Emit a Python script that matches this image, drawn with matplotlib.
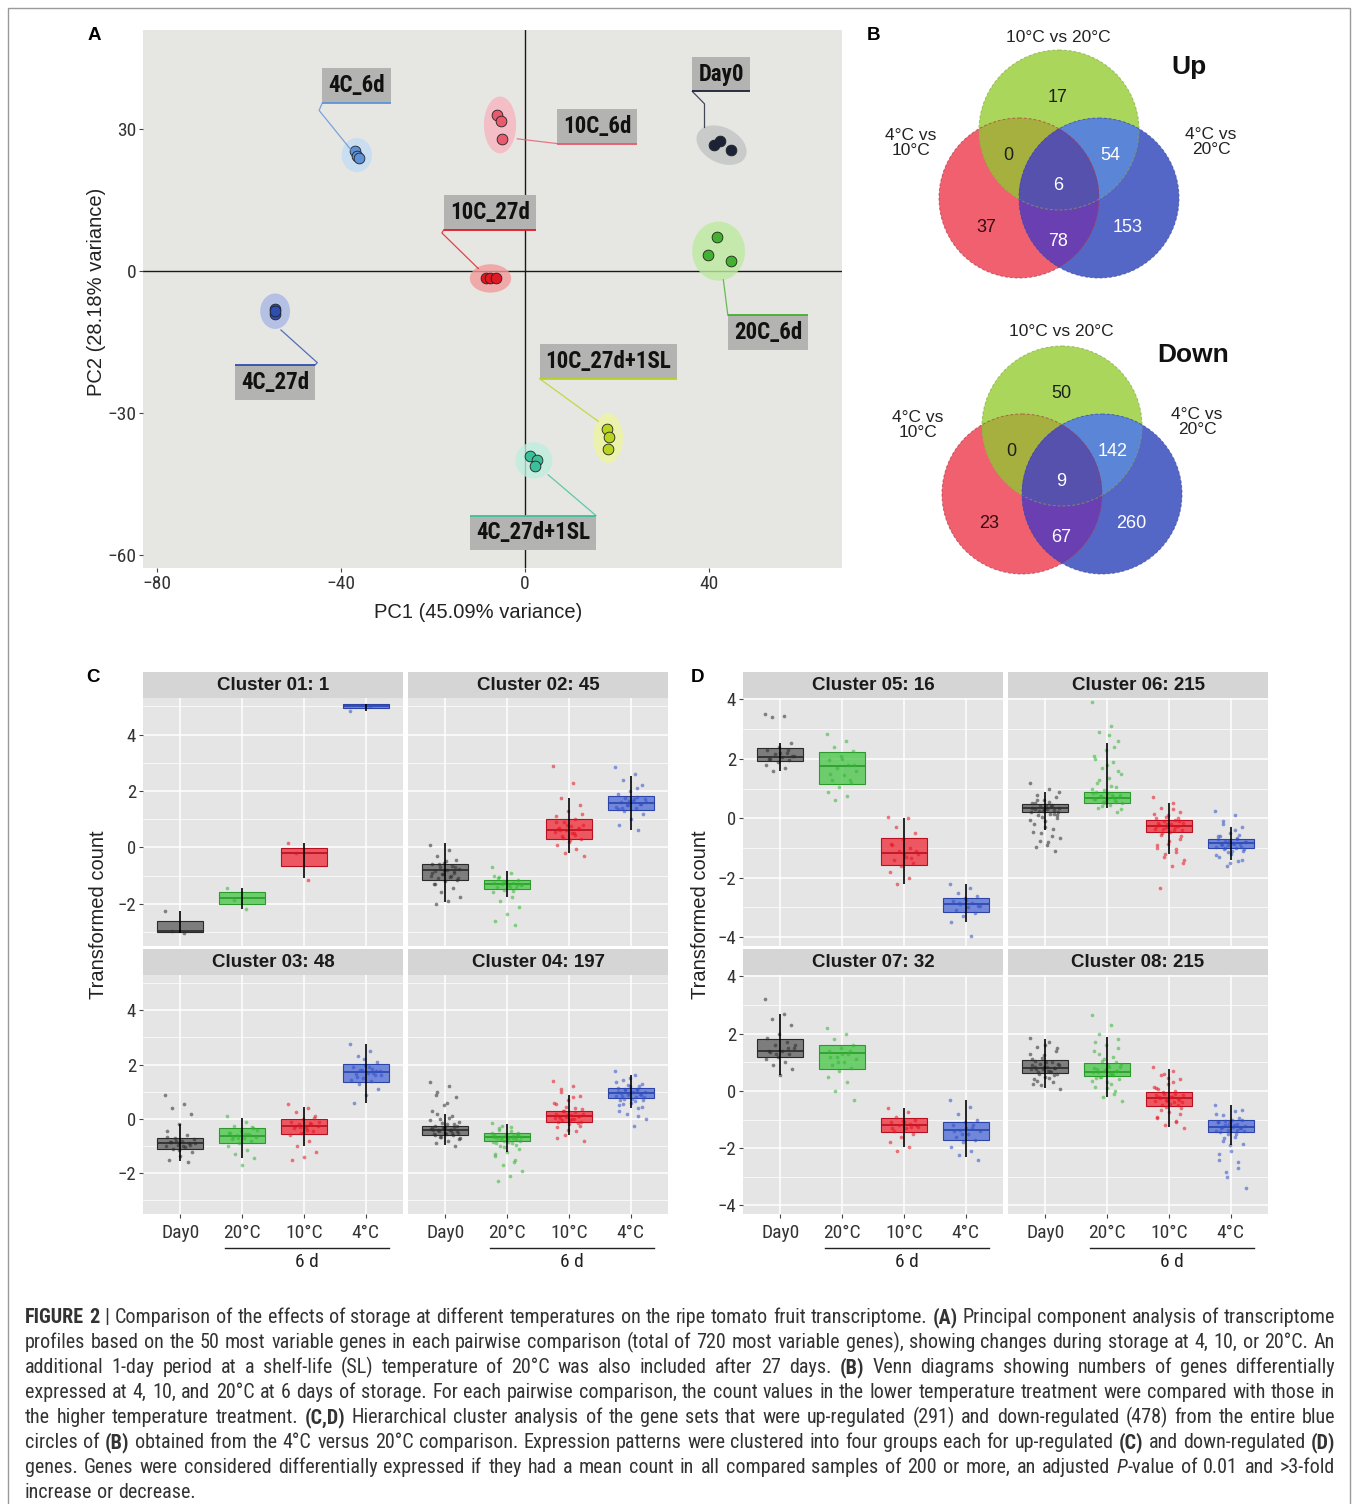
import numpy as np
import matplotlib
matplotlib.use("Agg")
import matplotlib.pyplot as plt
from matplotlib import font_manager
from matplotlib.font_manager import FontProperties
from matplotlib.patches import Ellipse, Circle, Rectangle, Polygon
from matplotlib.colors import to_rgba
from matplotlib.transforms import blended_transform_factory

W, H = 1358, 1504

_names = {f.name for f in font_manager.fontManager.ttflist}


def pick(cands):
    for c in cands:
        if c in _names:
            return c
    return "DejaVu Sans"


NARROW = pick(["Liberation Sans Narrow", "Arial Narrow", "Roboto Condensed", "Liberation Sans"])
SANS = pick(["Liberation Sans", "Arimo", "Roboto", "DejaVu Sans"])
plt.rcParams["font.family"] = [SANS, "DejaVu Sans"]
NARROW_L = [NARROW, "DejaVu Sans"]

# ---------------- Panel A: PCA scores ----------------
pca_groups = ["Day0", "4C_6d", "10C_6d", "20C_6d", "4C_27d", "10C_27d", "4C_27d+1SL", "10C_27d+1SL"]
pc1 = [[41.2, 42.4, 44.8], [-37.0, -36.5, -36.0], [-6.0, -5.2, -4.9], [41.8, 39.9, 44.8],
       [-54.3, -54.3, -54.2], [-8.5, -7.5, -6.3], [1.1, 2.7, 2.2], [17.8, 18.4, 18.2]]
pc2 = [[26.7, 27.5, 25.5], [25.3, 24.3, 23.8], [32.9, 31.7, 27.9], [7.2, 3.3, 2.0],
       [-8.0, -9.1, -8.5], [-1.6, -1.6, -1.6], [-39.1, -39.9, -41.2], [-33.4, -35.1, -37.6]]
ell_w = [11.5, 6.6, 7.0, 11.5, 6.5, 9.0, 8.0, 6.5]
ell_h = [7.5, 7.2, 12.0, 12.5, 7.5, 6.0, 7.7, 10.5]
ell_ang = [-25, 0, 0, 0, 0, 0, 0, 0]

# ---------------- Panel B: Venn counts ----------------
# order: 10v20 only, 10v20&4v10, 10v20&4v20, all three, 4v10 only, 4v10&4v20, 4v20 only
up_counts = [17, 0, 54, 6, 37, 78, 153]
down_counts = [50, 0, 142, 9, 23, 67, 260]

# ---------------- Panels C, D: clusters ----------------
groups = ["Day0", "20°C", "10°C", "4°C"]
# box stats per group: (whisker low, q1, median, q3, whisker high)
c01_box = [(-3.05, -3.0, -2.97, -2.62, -2.27), (-2.2, -2.0, -1.78, -1.6, -1.45),
           (-1.1, -0.66, -0.21, -0.03, 0.15), (4.85, 4.94, 5.0, 5.08, 5.08)]
c02_box = [(-1.95, -1.15, -0.8, -0.59, 0.15), (-1.75, -1.47, -1.3, -1.15, -0.85),
           (-0.2, 0.29, 0.6, 1.02, 1.75), (0.6, 1.33, 1.58, 1.82, 2.55)]
c03_box = [(-1.55, -1.1, -0.89, -0.7, -0.2), (-1.45, -0.89, -0.62, -0.32, 0.05),
           (-1.0, -0.54, -0.25, -0.02, 0.45), (0.6, 1.37, 1.72, 2.04, 2.75)]
c04_box = [(-0.95, -0.6, -0.4, -0.25, 0.2), (-1.2, -0.82, -0.68, -0.53, -0.2),
           (-0.6, -0.11, 0.1, 0.31, 0.9), (0.4, 0.77, 0.95, 1.15, 1.6)]
c05_box = [(1.6, 1.93, 2.07, 2.37, 2.55), (None, 1.17, 1.77, 2.24, None),
           (-2.2, -1.56, -1.16, -0.65, 0.0), (-3.5, -3.16, -2.87, -2.67, -2.2)]
c06_box = [(-0.4, 0.2, 0.33, 0.47, 0.9), (0.35, 0.53, 0.67, 0.9, 2.55),
           (-1.2, -0.47, -0.25, -0.07, 0.5), (-1.4, -0.99, -0.84, -0.69, -0.3)]
c07_box = [(0.55, 1.17, 1.41, 1.8, 2.7), (None, 0.77, 1.33, 1.6, None),
           (-1.95, -1.43, -1.2, -0.96, -0.6), (-2.3, -1.72, -1.36, -1.09, -0.3)]
c08_box = [(0.1, 0.64, 0.8, 1.07, 1.8), (-0.2, 0.51, 0.67, 0.97, 1.9),
           (-1.25, -0.52, -0.25, -0.03, 0.75), (-1.9, -1.43, -1.25, -1.03, -0.5)]

# gene values (read approximately from the jittered points)
c01_pts = [[-2.25, -3.05, -2.95], [-1.45, -2.2, -1.85], [0.15, -1.15, -0.2], [4.85, 5.0]]
c02_pts = [[0.1, -0.1, -0.3, -0.45, -0.55, -0.6, -0.65, -0.7, -0.75, -0.8, -0.85, -0.9, -0.95, -1.0,
            -1.05, -1.1, -1.15, -1.2, -1.3, -1.45, -1.6, -1.75, -1.9, -2.0, -0.7, -0.8, -0.9, -1.0,
            -0.6, -1.1, -0.5, -1.3, -0.85, -0.95],
           [-0.7, -0.9, -1.05, -1.15, -1.2, -1.25, -1.28, -1.3, -1.32, -1.35, -1.4, -1.45, -1.5, -1.6,
            -1.75, -1.9, -2.1, -2.35, -2.6, -2.75, -1.2, -1.3, -1.4, -1.1, -1.35, -1.25, -1.0, -1.55],
           [2.9, 2.3, 1.75, 1.5, 1.3, 1.1, 1.0, 0.9, 0.8, 0.75, 0.7, 0.65, 0.6, 0.55, 0.5, 0.4, 0.3,
            0.2, 0.1, -0.05, -0.2, -0.3, 0.5, 0.6, 0.7, 0.8, 0.9, 0.45, 0.35, 1.2, 0.25, 0.65],
           [2.85, 2.6, 2.4, 2.2, 2.0, 1.9, 1.8, 1.75, 1.7, 1.65, 1.6, 1.55, 1.5, 1.45, 1.4, 1.3, 1.2,
            1.0, 0.8, 0.6, 1.5, 1.6, 1.7, 1.4, 1.55, 1.65, 1.35, 2.1]]
c03_pts = [[0.9, 0.55, 0.4, 0.2, -0.2, -0.45, -0.6, -0.7, -0.75, -0.8, -0.85, -0.9, -0.95, -1.0,
            -1.05, -1.1, -1.2, -1.35, -1.5, -1.6, -0.8, -0.9, -1.0, -0.85, -0.95, -1.15, -0.65],
           [0.1, -0.1, -0.25, -0.35, -0.45, -0.5, -0.55, -0.6, -0.65, -0.7, -0.75, -0.8, -0.9, -1.0,
            -1.15, -1.3, -1.45, -1.7, -0.5, -0.6, -0.7, -0.4, -0.55, -0.65, -0.3],
           [0.55, 0.4, 0.25, 0.1, 0.0, -0.1, -0.15, -0.2, -0.25, -0.3, -0.35, -0.45, -0.5, -0.6, -0.8,
            -1.0, -1.2, -1.4, -1.5, -0.2, -0.3, -0.1, -0.4, -0.25, 0.05],
           [2.75, 2.5, 2.3, 2.1, 2.0, 1.9, 1.85, 1.8, 1.75, 1.7, 1.65, 1.6, 1.5, 1.45, 1.4, 1.3, 1.1,
            0.9, 0.6, 1.7, 1.8, 1.6, 1.9, 1.55, 1.75, 2.2]]
c04_pts = [[1.35, 1.2, 1.0, 0.8, 0.5, 0.3, 0.1, 0.0, -0.1, -0.2, -0.25, -0.3, -0.35, -0.38, -0.4,
            -0.42, -0.45, -0.5, -0.55, -0.6, -0.65, -0.7, -0.8, -0.9, -1.0, -0.3, -0.35, -0.4, -0.45,
            -0.5, -0.55, -0.6, -0.2, -0.15, -0.05, 0.05, 0.2, -0.25, -0.3, -0.4, -0.5, -0.65, -0.75,
            0.6, 0.9],
           [-0.15, -0.3, -0.4, -0.5, -0.55, -0.6, -0.62, -0.65, -0.68, -0.7, -0.72, -0.75, -0.8, -0.85,
            -0.9, -1.0, -1.1, -1.2, -1.35, -1.5, -1.7, -1.9, -2.1, -2.3, -0.55, -0.6, -0.65, -0.7,
            -0.75, -0.8, -0.85, -0.9, -0.95, -1.05, -0.5, -0.45, -0.35, -0.6, -0.7, -1.3, -1.6,
            -0.25],
           [1.4, 1.2, 1.0, 0.85, 0.7, 0.55, 0.4, 0.3, 0.2, 0.15, 0.12, 0.1, 0.08, 0.05, 0.0, -0.05,
            -0.1, -0.2, -0.3, -0.45, -0.6, -0.8, 0.0, 0.05, 0.1, 0.15, 0.2, 0.25, 0.3, 0.35, -0.05,
            -0.1, -0.15, 0.45, 0.6, 0.8, 1.1, -0.25, -0.4, -0.7],
           [1.75, 1.6, 1.45, 1.3, 1.2, 1.15, 1.1, 1.05, 1.0, 0.98, 0.95, 0.92, 0.9, 0.85, 0.8, 0.75,
            0.7, 0.6, 0.5, 0.4, 0.2, 0.0, -0.25, 0.85, 0.9, 0.95, 1.0, 1.05, 1.1, 0.8, 0.75, 0.7, 1.2,
            1.25, 1.35, 0.65, 0.55, 0.45, 1.5, 0.3, 0.1]]
c05_pts = [[3.5, 3.45, 3.4, 2.55, 2.4, 2.3, 2.2, 2.15, 2.1, 2.05, 2.0, 1.95, 1.9, 1.8, 1.7, 1.6,
            2.1, 2.2, 2.0, 2.3],
           [2.85, 2.6, 2.4, 2.25, 2.1, 1.95, 1.8, 1.7, 1.6, 1.45, 1.3, 1.2, 1.05, 0.9, 0.75, 0.6,
            1.8, 2.0, 1.5, 1.3],
           [0.05, 0.0, -0.3, -0.5, -0.7, -0.85, -1.0, -1.1, -1.2, -1.3, -1.4, -1.5, -1.6, -1.8, -2.0,
            -2.2, -1.1, -1.2, -0.9, -1.35],
           [-2.2, -2.35, -2.5, -2.6, -2.7, -2.8, -2.85, -2.9, -2.95, -3.0, -3.1, -3.2, -3.3, -3.5,
            -3.95, -2.85, -2.95, -2.75]]
c06_pts = [[1.2, 1.0, 0.8, 0.7, 0.6, 0.5, 0.45, 0.4, 0.35, 0.32, 0.3, 0.28, 0.25, 0.2, 0.15, 0.1,
            0.0, -0.1, -0.2, -0.35, -0.5, -0.65, -0.8, -0.95, -1.1, 0.3, 0.35, 0.4, 0.25, 0.2, 0.45,
            0.5, 0.15, 0.05, -0.05, 0.55, 0.6, 0.1, -0.3, -0.45, -0.6, -0.75, 0.9, -0.9],
           [3.9, 3.1, 2.9, 2.6, 2.3, 2.1, 1.9, 1.7, 1.5, 1.35, 1.2, 1.05, 0.95, 0.85, 0.8, 0.75, 0.7,
            0.68, 0.65, 0.6, 0.55, 0.5, 0.45, 0.35, 0.2, 0.6, 0.65, 0.7, 0.75, 0.8, 0.85, 0.9, 0.55,
            0.5, 1.0, 1.1, 1.3, 1.6, 1.8, 2.0, 2.4, 0.4, 0.3, 2.8],
           [0.7, 0.5, 0.35, 0.2, 0.1, 0.0, -0.05, -0.1, -0.15, -0.2, -0.22, -0.25, -0.3, -0.35, -0.4,
            -0.5, -0.6, -0.75, -0.9, -1.05, -1.2, -1.4, -1.6, -2.35, -0.1, -0.2, -0.25, -0.3, -0.35,
            -0.4, -0.45, -0.15, 0.0, 0.05, 0.15, 0.3, -0.55, -0.7, -0.85, -1.0, -1.15, -1.3, -1.5],
           [0.25, 0.1, -0.1, -0.3, -0.5, -0.6, -0.7, -0.75, -0.8, -0.82, -0.85, -0.88, -0.9, -0.95,
            -1.0, -1.05, -1.1, -1.2, -1.3, -1.45, -1.6, -0.8, -0.85, -0.9, -0.95, -0.75, -0.7, -0.65,
            -1.0, -1.05, -1.1, -0.6, -0.55, -1.15, -1.25, -0.4, -0.2, -1.4, -1.5]]
c07_pts = [[3.2, 2.7, 2.5, 2.3, 2.0, 1.85, 1.7, 1.6, 1.5, 1.4, 1.35, 1.3, 1.2, 1.1, 1.0, 0.9, 0.75,
            0.55, 1.4, 1.5, 1.3, 1.6],
           [2.2, 2.0, 1.8, 1.6, 1.5, 1.4, 1.3, 1.2, 1.1, 1.0, 0.9, 0.8, 0.7, 0.5, 0.3, 0.0, -0.3,
            1.3, 1.2, 1.4, 1.0],
           [-0.6, -0.75, -0.9, -1.0, -1.05, -1.1, -1.15, -1.2, -1.25, -1.3, -1.4, -1.5, -1.6, -1.8,
            -1.95, -2.1, -1.2, -1.1, -1.3, -1.25],
           [-0.3, -0.55, -0.8, -1.0, -1.1, -1.2, -1.3, -1.35, -1.4, -1.5, -1.6, -1.7, -1.8, -1.95,
            -2.1, -2.25, -2.4, -1.3, -1.4, -1.2, -1.5]]
c08_pts = [[1.85, 1.7, 1.55, 1.4, 1.25, 1.1, 1.0, 0.95, 0.9, 0.85, 0.82, 0.8, 0.78, 0.75, 0.7, 0.65,
            0.6, 0.5, 0.4, 0.3, 0.2, 0.05, 0.7, 0.75, 0.8, 0.85, 0.9, 0.65, 0.6, 0.95, 1.0, 1.05,
            0.55, 1.15, 1.3, 0.45, 0.35, 1.5, 1.6, 0.25],
           [2.65, 2.3, 2.0, 1.8, 1.6, 1.4, 1.2, 1.05, 0.95, 0.85, 0.75, 0.7, 0.68, 0.65, 0.6, 0.5, 0.4,
            0.3, 0.15, 0.0, -0.2, -0.35, 0.6, 0.65, 0.7, 0.75, 0.8, 0.55, 0.5, 0.85, 0.9, 0.45, 1.0,
            1.1, 0.35, 0.25, 1.3, 1.5, 0.1, 1.7, -0.1],
           [0.85, 0.7, 0.55, 0.4, 0.25, 0.1, 0.0, -0.1, -0.15, -0.2, -0.22, -0.25, -0.3, -0.35, -0.4,
            -0.5, -0.6, -0.75, -0.9, -1.05, -1.2, -1.3, -0.2, -0.25, -0.3, -0.35, -0.15, -0.1, -0.05,
            -0.4, -0.45, 0.05, -0.5, -0.55, 0.15, 0.3, -0.65, -0.8, 0.45, -0.95, -1.1, 0.6],
           [-0.5, -0.7, -0.85, -1.0, -1.05, -1.1, -1.15, -1.2, -1.22, -1.25, -1.28, -1.3, -1.35, -1.4,
            -1.5, -1.65, -1.85, -2.1, -2.4, -2.7, -3.0, -3.4, -1.2, -1.25, -1.3, -1.15, -1.1, -1.35,
            -1.05, -1.4, -1.0, -1.45, -0.95, -1.5, -0.8, -1.6, -1.75, -0.65, -1.9, -2.2, -2.5,
            -2.85]]

c_titles = ["Cluster 01: 1", "Cluster 02: 45", "Cluster 03: 48", "Cluster 04: 197"]
d_titles = ["Cluster 05: 16", "Cluster 06: 215", "Cluster 07: 32", "Cluster 08: 215"]

# ---------------- styling ----------------
pt_col = ["#1c2238", "#5e92d8", "#e85a6e", "#44b030", "#2f4fb0", "#e01a24", "#3cc09a", "#b8d41e"]
ell_col = ["#c2c4c6", "#c2dcf4", "#f7b4be", "#bdeaa0", "#a9b7e6", "#f29a9a", "#bdeedd", "#eef6a0"]
lab_x = [42.7, -36.6, 15.7, 52.9, -54.3, -7.6, 1.8, 18.2]
lab_y = [41.6, 39.1, 30.6, -13.1, -23.6, 12.4, -55.4, -19.1]
lab_side = ["bottom", "bottom", "bottom", "top", "top", "bottom", "top", "bottom"]
lab_corner = ["left", "left", "left", "left", "right", "left", "right", "left"]
lab_path = [[(39.1, 35.3), (39.1, 30.3)], [(-44.7, 33.9), (-37.8, 25.6)], [(-1.6, 27.9)],
            [(43.2, -1.9)], [(-45.1, -19.4), (-53.0, -12.5)], [(-18.0, 8.0), (-10.1, 0.5)],
            [(5.1, -43.1)], [(16.0, -31.8)]]

box_col = ["#555555", "#3fc43f", "#f0202e", "#4563d6"]
med_col = ["#2a2a2a", "#2a9a2a", "#b81020", "#2c44a8"]
dot_col = ["#2b2b2b", "#2fb82f", "#e8101e", "#2f4fc8"]

fig = plt.figure(figsize=(W / 100, H / 100), dpi=100)
fig.patch.set_facecolor("white")

ov = fig.add_axes([0, 0, 1, 1])
ov.set_xlim(0, W)
ov.set_ylim(H, 0)
ov.axis("off")


def px_axes(l, t, r, b):
    return fig.add_axes([l / W, 1 - b / H, (r - l) / W, (b - t) / H])


ov.add_patch(Rectangle((8, 8), W - 16, H + 20, fill=False, ec="#9a9a9a", lw=1.0))

# panel letters
for letter, (x, y) in zip("ABCD", [(94, 36), (873, 35), (93, 678), (698, 678)]):
    ov.text(x, y, letter, ha="center", va="center", fontsize=13.5, fontweight="bold")

# ================= Panel A =================
axA = px_axes(143, 30, 842, 568)
axA.set_facecolor("#e6e7e3")
for s in axA.spines.values():
    s.set_visible(False)
axA.set_xlim(-83, 69)
axA.set_ylim(-62.8, 50.9)
axA.axhline(0, color="#1a1a1a", lw=1.0, zorder=1)
axA.axvline(0, color="#1a1a1a", lw=1.0, zorder=1)
for xs, ys, w, h, a, pc, ec in zip(pc1, pc2, ell_w, ell_h, ell_ang, pt_col, ell_col):
    axA.add_patch(Ellipse((np.mean(xs), np.mean(ys)), w, h, angle=a, fc=ec, ec="none",
                          alpha=0.8, zorder=2))
    axA.scatter(xs, ys, s=60, c=pc, edgecolors="#222222", linewidths=0.6, zorder=3)
axA.set_xticks([-80, -40, 0, 40])
axA.set_yticks([-60, -30, 0, 30])
axA.tick_params(length=3, width=0.8, color="#444444", labelsize=14, labelcolor="#333333", pad=2)
for lab in axA.get_xticklabels() + axA.get_yticklabels():
    lab.set_fontfamily(NARROW_L)

lab_texts = []
for g, lx, ly in zip(pca_groups, lab_x, lab_y):
    lab_texts.append(axA.text(lx, ly, g, ha="center", va="center", fontsize=16.5, fontweight="bold",
                              family=NARROW_L, color="#111111", zorder=6,
                              bbox=dict(boxstyle="square,pad=0.26", fc="#b3b4b1", ec="none")))
ov.text(478, 613, "PC1 (45.09% variance)", ha="center", va="center", fontsize=14.5, color="#222222")
ov.text(96, 292, "PC2 (28.18% variance)", ha="center", va="center", fontsize=14.5, color="#222222",
        rotation=90)

# ================= Panel B =================
def venn(bx, by, counts, lab_pos, word, word_pos):
    R = 80
    cg, cr, cb = (bx, by - 68), (bx - 40, by), (bx + 40, by)

    def circ(c, **kw):
        return Circle(c, R, transform=ov.transData, **kw)

    for c, col in [(cr, "#f0606e"), (cg, "#a9d65b"), (cb, "#5567c6")]:
        ov.add_patch(circ(c, fc=col, ec="none"))
    p = ov.add_patch(circ(cg, fc="#a6b03e", ec="none"))
    p.set_clip_path(circ(cr))
    p = ov.add_patch(circ(cb, fc="#5b86d8", ec="none"))
    p.set_clip_path(circ(cg))
    p = ov.add_patch(circ(cb, fc="#6a3fb2", ec="none"))
    p.set_clip_path(circ(cr))
    a = np.arccos(40 / R)
    t1 = np.linspace(-a, a, 60)
    t2 = np.linspace(np.pi - a, np.pi + a, 60)
    lens = np.vstack([np.c_[cr[0] + R * np.cos(t1), cr[1] + R * np.sin(t1)],
                      np.c_[cb[0] + R * np.cos(t2), cb[1] + R * np.sin(t2)]])
    p = ov.add_patch(Polygon(lens, closed=True, fc="#5551ad", ec="none"))
    p.set_clip_path(circ(cg))
    for c, col in [(cr, "#b03848"), (cg, "#86a848"), (cb, "#3c4c9c")]:
        ov.add_patch(circ(c, fill=False, ec=col, lw=0.7, ls=(0, (3, 2)), alpha=0.7))
    offs = [(-1, -100), (-51, -43), (51, -43), (-1, -13), (-73, 30), (-1, 43), (69, 30)]
    cols = ["#1e1e1e", "#1e1e1e", "white", "white", "#3a0a12", "white", "white"]
    for n, (dx, dy), col in zip(counts, offs, cols):
        ov.text(bx + dx, by + dy, str(n), ha="center", va="center", fontsize=13, color=col)
    texts = ["10°C vs 20°C", "4°C vs\n10°C", "4°C vs\n20°C"]
    for t, (dx, dy) in zip(texts, lab_pos):
        ov.text(bx + dx, by + dy, t, ha="center", va="center", fontsize=12.5, color="#222222",
                linespacing=1.0)
    ov.text(bx + word_pos[0], by + word_pos[1], word, ha="center", va="center", fontsize=19,
            fontweight="bold", color="#111111")


venn(1059, 198, up_counts, [(-1, -160), (-148, -55), (152, -56)], "Up", (130, -131))
venn(1062, 494, down_counts, [(-1, -163), (-144, -69), (135, -72)], "Down", (131, -139))

# ================= Panels C, D =================
def jitter(n):
    return ((np.arange(n) * 0.618034) % 1.0 - 0.5) * 0.5


def draw_cluster(ax, boxes, pts, ylim, yticks, minors, left, bottom):
    ax.set_facecolor("#e5e5e5")
    for s in ax.spines.values():
        s.set_visible(False)
    stats = []
    for b in boxes:
        lo, q1, med, q3, hi = b
        stats.append(dict(whislo=q1 if lo is None else lo, q1=q1, med=med, q3=q3,
                          whishi=q3 if hi is None else hi))
    bp = ax.bxp(stats, positions=[1, 2, 3, 4], widths=0.75, patch_artist=True, showfliers=False,
                showcaps=False, manage_ticks=False, whiskerprops=dict(linewidth=0),
                medianprops=dict(linewidth=1.2), zorder=2)
    for i, patch in enumerate(bp["boxes"]):
        patch.set_facecolor(to_rgba(box_col[i], 0.72))
        patch.set_edgecolor(med_col[i])
        patch.set_linewidth(0.8)
        bp["medians"][i].set_color(med_col[i])
    for i, vals in enumerate(pts):
        ax.scatter(i + 1 + jitter(len(vals)), vals, s=7, color=dot_col[i], alpha=0.55, lw=0,
                   zorder=3)
        lo, hi = boxes[i][0], boxes[i][4]
        if lo is not None:
            ax.vlines(i + 1, lo, hi, color="black", lw=1.2, zorder=4)
    ax.set_xlim(0.4, 4.6)
    ax.set_ylim(*ylim)
    ax.set_xticks([1, 2, 3, 4])
    ax.set_yticks(yticks)
    ax.set_yticks(minors, minor=True)
    ax.set_axisbelow(True)
    ax.grid(which="major", color="white", lw=1.1)
    ax.grid(which="minor", axis="y", color="white", lw=0.5)
    ax.tick_params(which="minor", length=0)
    ax.tick_params(which="major", length=3, width=0.8, color="#444444", labelcolor="#333333",
                   left=left, labelleft=left, bottom=bottom, labelbottom=bottom)
    ax.tick_params(axis="y", labelsize=13.5, pad=2)
    ax.tick_params(axis="x", labelsize=14, pad=4)
    if bottom:
        ax.set_xticklabels(groups)
        for lab in ax.get_xticklabels():
            lab.set_fontfamily(NARROW_L)
        tr = blended_transform_factory(ax.transData, ax.transAxes)
        ax.plot([1.72, 4.38], [-0.142, -0.142], color="#222222", lw=1.0, transform=tr,
                clip_on=False)
        ax.text(3.05, -0.2, "6 d", ha="center", va="center", transform=tr, fontsize=14,
                family=NARROW_L, color="#222222")
    if left:
        for lab in ax.get_yticklabels():
            lab.set_fontfamily(NARROW_L)


def strip(l, t, r, b, title):
    sa = px_axes(l, t, r, b)
    sa.set_facecolor("#d5d5d5")
    sa.set_xticks([])
    sa.set_yticks([])
    for s in sa.spines.values():
        s.set_visible(False)
    sa.text(0.5, 0.48, title, ha="center", va="center", fontsize=13.5, fontweight="bold",
            color="#1a1a1a", transform=sa.transAxes)


cells = [(143, 698, 403, 946), (408, 698, 668, 946), (143, 975, 403, 1214), (408, 975, 668, 1214)]
c_boxes = [c01_box, c02_box, c03_box, c04_box]
c_pts = [c01_pts, c02_pts, c03_pts, c04_pts]
d_boxes = [c05_box, c06_box, c07_box, c08_box]
d_pts = [c05_pts, c06_pts, c07_pts, c08_pts]

for k, (l, t, r, b) in enumerate(cells):
    left = k % 2 == 0
    bottom = k >= 2
    for dx, bxs, pts, titles, ylim, yt, mn in [
            (0, c_boxes, c_pts, c_titles, (-3.5, 5.3), [-2, 0, 2, 4], [-3, -1, 1, 3, 5]),
            (600, d_boxes, d_pts, d_titles, (-4.3, 4.05), [-4, -2, 0, 2, 4], [-3, -1, 1, 3])]:
        ax = px_axes(l + dx, t, r + dx, b)
        draw_cluster(ax, bxs[k], pts[k], ylim, yt, mn, left, bottom)
        strip(l + dx, t - 26, r + dx, t, titles[k])

ov.text(98, 915, "Transformed count", ha="center", va="center", rotation=90, fontsize=14.5,
        color="#222222")
ov.text(700, 915, "Transformed count", ha="center", va="center", rotation=90, fontsize=14.5,
        color="#222222")

# label leader lines for panel A (need rendered box extents)
fig.canvas.draw()
inv = axA.transData.inverted()
for t, side, corner, path, col in zip(lab_texts, lab_side, lab_corner, lab_path, pt_col):
    bb = t.get_bbox_patch().get_window_extent()
    (x0, y0), (x1, y1) = inv.transform([[bb.x0, bb.y0], [bb.x1, bb.y1]])
    ys = y0 if side == "bottom" else y1
    axA.plot([x0, x1], [ys, ys], color=col, lw=1.3, zorder=7, solid_capstyle="butt")
    sx = x0 if corner == "left" else x1
    xs, ys2 = zip(*([(sx, ys)] + path))
    axA.plot(xs, ys2, color=col, lw=0.9, alpha=0.8, zorder=4)

# ================= Caption =================
cap_lines = [
    [("FIGURE 2", "b"), (" | ", "n"),
     ("Comparison of the effects of storage at different temperatures on the ripe tomato fruit "
      "transcriptome. ", "n"), ("(A)", "b"), (" Principal component analysis of transcriptome", "n")],
    [("profiles based on the 50 most variable genes in each pairwise comparison (total of 720 most "
      "variable genes), showing changes during storage at 4, 10, or 20°C. An", "n")],
    [("additional 1-day period at a shelf-life (SL) temperature of 20°C was also included after 27 "
      "days. ", "n"), ("(B)", "b"), (" Venn diagrams showing numbers of genes differentially", "n")],
    [("expressed at 4, 10, and 20°C at 6 days of storage. For each pairwise comparison, the count "
      "values in the lower temperature treatment were compared with those in", "n")],
    [("the higher temperature treatment. ", "n"), ("(C,D)", "b"),
     (" Hierarchical cluster analysis of the gene sets that were up-regulated (291) and "
      "down-regulated (478) from the entire blue", "n")],
    [("circles of ", "n"), ("(B)", "b"),
     (" obtained from the 4°C versus 20°C comparison. Expression patterns were clustered into four "
      "groups each for up-regulated ", "n"), ("(C)", "b"), (" and down-regulated ", "n"),
     ("(D)", "b")],
    [("genes. Genes were considered differentially expressed if they had a mean count in all "
      "compared samples of 200 or more, an adjusted ", "n"), ("P", "i"),
     ("-value of 0.01 and >3-fold", "n")],
    [("increase or decrease.", "n")],
]

renderer = fig.canvas.get_renderer()


def props(kind, size):
    return FontProperties(family=NARROW_L, size=size,
                          weight="bold" if kind == "b" else "normal",
                          style="italic" if kind == "i" else "normal")


def tokenize(line):
    toks, pending = [], False
    for text, kind in line:
        for i, part in enumerate(text.split(" ")):
            if i > 0:
                pending = True
            if part == "":
                continue
            toks.append((part, kind, pending and len(toks) > 0))
            pending = False
    return toks


def width(s, prop):
    return renderer.get_text_width_height_descent(s, prop, ismath=False)[0]


x_left, x_right = 25, 1335
target = x_right - x_left
size = 12.5
nat = []
for line in cap_lines[:-1]:
    toks = tokenize(line)
    sp = width("a a", props("n", size)) - width("aa", props("n", size))
    nat.append(sum(width(t, props(k, size)) for t, k, _ in toks)
               + sp * sum(1 for *_, g in toks if g))
size = min(14.5, size * target / max(nat) * 0.998)

for li, line in enumerate(cap_lines):
    toks = tokenize(line)
    ws = [width(t, props(k, size)) for t, k, _ in toks]
    ngap = sum(1 for *_, g in toks if g)
    sp = width("a a", props("n", size)) - width("aa", props("n", size))
    gap = (target - sum(ws)) / ngap if li < len(cap_lines) - 1 else sp
    x = x_left
    y = 1323 + 25 * li
    for (t, k, g), w in zip(toks, ws):
        if g:
            x += gap
        ov.text(x, y, t, ha="left", va="baseline", fontproperties=props(k, size), color="#333333")
        x += w

fig.savefig("out.png", dpi=100)
